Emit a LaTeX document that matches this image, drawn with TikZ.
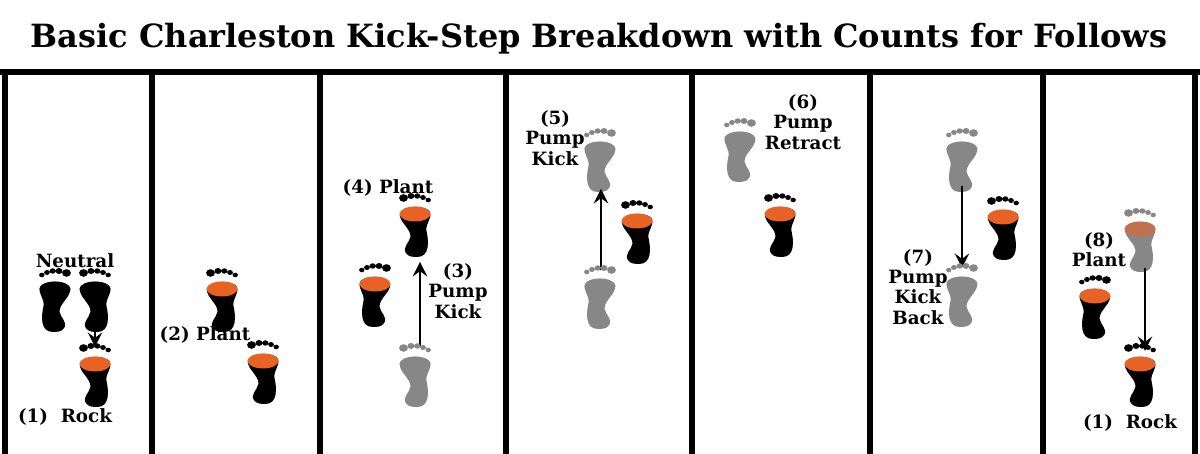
\documentclass[tikz,border=0pt]{standalone}
\usepackage{fontspec}
\setmainfont{DejaVu Serif}
\usetikzlibrary{arrows}
\definecolor{ball}{RGB}{232,98,38}
\definecolor{ghost}{RGB}{135,135,135}
% foot: position, xscale (1 right, -1 left), sole colour, ball colour
\newcommand{\foot}[4]{%
\begin{scope}[shift={#1},xscale=#2*1.15]
	\fill[#3] (0.02,-0.30) .. controls (0.13,-0.30) and (0.12,-0.14) .. (0.10,-0.04)
		.. controls (0.09,0.04) and (0.15,0.08) .. (0.13,0.15)
		.. controls (0.10,0.22) and (-0.10,0.22) .. (-0.13,0.14)
		.. controls (-0.15,0.06) and (-0.03,-0.02) .. (-0.04,-0.10)
		.. controls (-0.05,-0.16) and (-0.11,-0.20) .. (-0.08,-0.26)
		.. controls (-0.06,-0.30) and (-0.01,-0.30) .. (0.02,-0.30);
	\fill[#4] (0,0.13) ellipse (0.135 and 0.075);
	\fill[#3] (-0.10,0.29) circle (0.038) (-0.035,0.31) circle (0.030)
		(0.02,0.31) circle (0.027) (0.07,0.295) circle (0.025) (0.115,0.27) circle (0.023);
\end{scope}}
\begin{document}
\begin{tikzpicture}[x=1cm,y=1cm,
	frame/.style={line width=1.6pt},
	lbl/.style={font=\bfseries\fontsize{5.2}{5.8}\selectfont,align=center,inner sep=0pt},
	move/.style={thick,->,>=stealth}]
\useasboundingbox (0,0) rectangle (12,4.54);
\node[font=\bfseries\fontsize{9.1}{10}\selectfont,inner sep=0pt] (title) at (5.99,4.15)
	{Basic Charleston Kick-Step Breakdown with Counts for Follows};
\draw[frame] (0,3.82) -- (12,3.82);
\foreach \x in {0.05,1.52,3.2,5.06,6.92,8.7,10.43,11.95}
	\draw[frame] (\x,0) -- (\x,3.82);
% panel 1
\node[lbl] (neutral) at (0.75,1.93) {Neutral};
\foot{(0.55,1.52)}{-1}{black}{black}
\foot{(0.95,1.52)}{1}{black}{black}
\coordinate (n1) at (0.95,1.24);
\coordinate (n2) at (0.95,1.07);
\draw[move] (n1) -- (n2);
\foot{(0.95,0.77)}{1}{black}{ball}
\node[lbl] (rock) at (0.65,0.37) {(1)~~Rock};
% panel 2
\foot{(2.22,1.52)}{1}{black}{ball}
\node[lbl] (plant2) at (2.05,1.19) {(2)~Plant};
\foot{(2.63,0.80)}{1}{black}{ball}
% panel 3
\node[lbl] (plant4) at (3.88,2.66) {(4)~Plant};
\foot{(4.15,2.27)}{1}{black}{ball}
\foot{(3.75,1.57)}{-1}{black}{ball}
\coordinate (k1) at (4.2,1.08);
\coordinate (k2) at (4.2,1.92);
\draw[move] (k1) -- (k2);
\node[lbl] (kick3) at (4.58,1.63) {(3)\\Pump\\Kick};
\foot{(4.15,0.77)}{1}{ghost}{ghost}
% panel 4
\node[lbl] (kick5) at (5.55,3.16) {(5)\\Pump\\Kick};
\foot{(6.0,2.92)}{-1}{ghost}{ghost}
\coordinate (p1) at (6.01,1.84);
\coordinate (p2) at (6.01,2.65);
\draw[move] (p1) -- (p2);
\foot{(6.37,2.20)}{1}{black}{ball}
\foot{(6.0,1.55)}{-1}{ghost}{ghost}
% panel 5
\node[lbl] (retract) at (8.03,3.32) {(6)\\Pump\\Retract};
\foot{(7.4,3.02)}{-1}{ghost}{ghost}
\foot{(7.8,2.27)}{1}{black}{ball}
% panel 6
\foot{(9.62,2.92)}{-1}{ghost}{ghost}
\coordinate (b1) at (9.62,2.68);
\coordinate (b2) at (9.62,1.86);
\draw[move] (b1) -- (b2);
\foot{(10.03,2.24)}{1}{black}{ball}
\node[lbl] (kickback) at (9.18,1.67) {(7)\\Pump\\Kick\\Back};
\foot{(9.62,1.57)}{-1}{ghost}{ghost}
% panel 7
\node[lbl] (plant8) at (10.99,2.04) {(8)\\Plant};
\foot{(11.4,2.12)}{1}{ghost}{ball!60!ghost}
\foot{(10.95,1.45)}{-1}{black}{ball}
\coordinate (r1) at (11.45,1.86);
\coordinate (r2) at (11.45,1.03);
\draw[move] (r1) -- (r2);
\foot{(11.4,0.77)}{1}{black}{ball}
\node[lbl] (rock8) at (11.3,0.31) {(1)~~Rock};
\end{tikzpicture}
\end{document}
